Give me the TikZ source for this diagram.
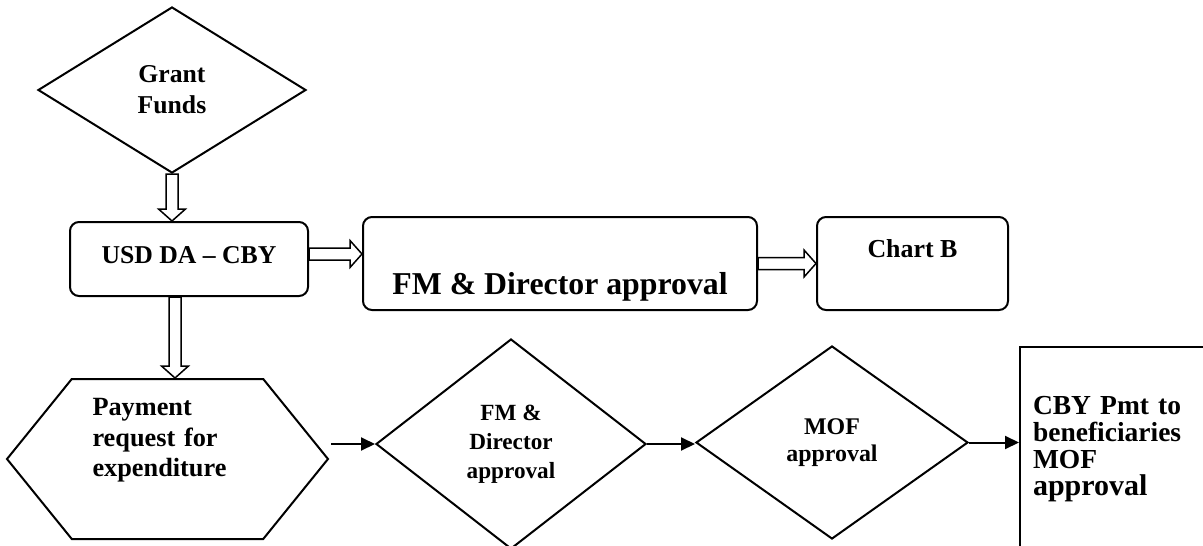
\documentclass[tikz,border=0pt]{standalone}
\usepackage{fontspec}
\setmainfont{Liberation Serif}
\usetikzlibrary{shapes.geometric,shapes.symbols,arrows.meta,calc}

\begin{document}
\begin{tikzpicture}[x=1pt,y=-1pt,
  box/.style={draw,line width=2pt,rounded corners=9pt,minimum height=93pt},
  choice/.style={draw,diamond,line width=2pt,inner sep=0pt,align=center},
  flow/.style={line width=2pt,-{Triangle[length=14pt,width=13pt]}},
  blockarrow/.style={line width=1.5pt,to path={let \p1=(\tikztostart),\p2=(\tikztotarget),
    \n1={atan2(\y2-\y1,\x2-\x1)},\n2={veclen(\x2-\x1,\y2-\y1)} in
    [shift={(\p1)},rotate=\n1] (0,6) -- (\n2-12,6) -- (\n2-12,13.5) -- (\n2,0)
    -- (\n2-12,-13.5) -- (\n2-12,-6) -- (0,-6) -- cycle}}]

\useasboundingbox (0,0) rectangle (1203,546);
\clip (0,0) rectangle (1203,546);

\node[choice,minimum width=268pt,minimum height=166pt,font=\fontsize{25.7}{31}\selectfont\bfseries] (grant) at (172,90) {Grant\\Funds};

\node[box,minimum width=238pt,minimum height=74pt,text height=17pt,text depth=8pt,font=\fontsize{25.7}{31}\selectfont\bfseries] (usd) at (189,259) {USD DA – CBY};
\node[box,minimum width=394pt,text height=70pt,text depth=9pt,font=\fontsize{31.8}{36}\selectfont\bfseries] (fmbox) at (560,263.5) {FM \& Director approval};
\node[box,minimum width=191pt,text height=18pt,text depth=30pt,font=\fontsize{25.9}{31}\selectfont\bfseries] (chartb) at (912.5,263.5) {Chart B};

\node[signal,signal to=west and east,signal pointer angle=102,draw,line width=2pt,minimum width=321pt,minimum height=160pt,text width=150pt,align=left,text height=20pt,text depth=107pt,font=\fontsize{26.3}{30.5}\selectfont\bfseries] (hexa) at (167.5,459) {Payment\\request for\\expenditure};

\node[choice,minimum width=270pt,minimum height=210pt,font=\fontsize{23.2}{29}\selectfont\bfseries] (fmd) at (511,444) {FM \&\\Director\\approval};
\node[choice,minimum width=272pt,minimum height=193pt,font=\fontsize{23.9}{27}\selectfont\bfseries] (mof) at (832,442.5) {MOF\\approval};

\node[draw,line width=2pt,anchor=north west,minimum width=200pt,minimum height=214pt,inner xsep=13pt,text width=174pt,align=left,text height=18pt,text depth=98pt,font=\fontsize{27.5}{27}\selectfont\bfseries] (cby) at (1019,346) {CBY Pmt to\\beneficiaries\\MOF\\{\fontsize{30}{27}\selectfont approval}};

\coordinate (down) at ($(usd.south)+(-14,0)$);

\draw[blockarrow] (grant.south) to (grant.south |- usd.north);
\draw[blockarrow] ($(usd.east)+(0,-5)$) to ($(usd.east -| fmbox.west)+(0,-5)$);
\draw[blockarrow] (fmbox.east) to (fmbox.east -| chartb.west);
\draw[blockarrow] (down) to (down |- hexa.north);

\draw[flow] ($(hexa.east |- fmd.west)+(2,0)$) -- (fmd.west);
\draw[flow] (fmd.east) -- (fmd.east -| mof.west);
\draw[flow] (mof.east) -- (mof.east -| cby.west);

\end{tikzpicture}
\end{document}
